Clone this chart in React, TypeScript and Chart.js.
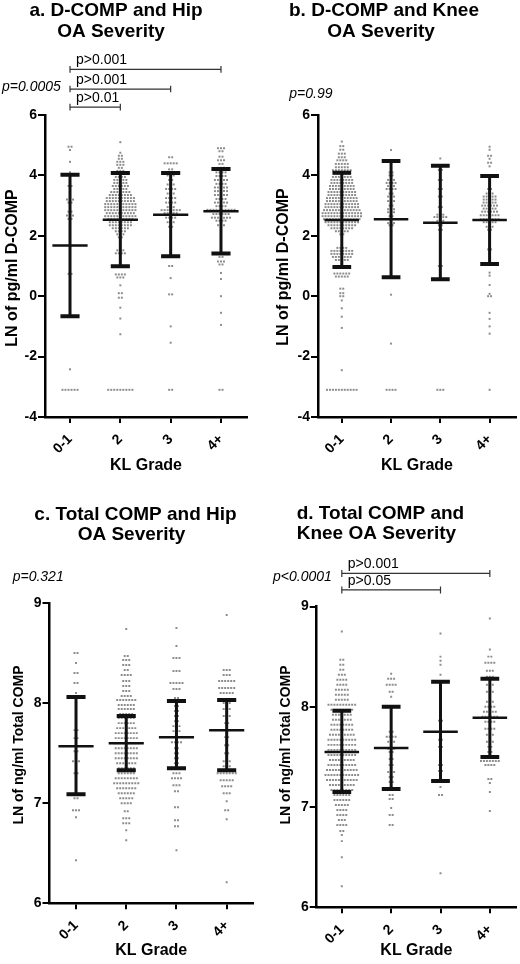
import React, { useEffect, useRef } from "react";
import { Chart, registerables } from "chart.js";

Chart.register(...registerables);

const FONT = '"Liberation Sans", Arial, Helvetica, sans-serif';
const KL_GRADES = ["0-1", "2", "3", "4+"];

type Row = [number, number]; // [value, number of dots at that level]

// ---------- a. D-COMP and Hip OA Severity (LN of pg/ml D-COMP)
const A_ROWS_01: Row[] = [[4.95,2],[4.84,1],[4.45,1],[4.1,1],[3.65,2],[3.2,3],[3.1,2],[2.8,2],[2.67,3],[2.56,2],[1.45,1],[0.74,2],[-2.42,1],[-3.1,6]];
const A_ROWS_2: Row[] = [[5.1,1],[4.75,1],[4.65,2],[4.55,2],[4.45,3],[4.35,3],[4.25,2],[4.15,3],[4.05,4],[3.95,4],[3.85,5],[3.75,5],[3.65,6],[3.55,5],[3.45,7],[3.35,8],[3.25,10],[3.15,10],[3.05,11],[2.95,11],[2.85,11],[2.75,10],[2.65,11],[2.55,9],[2.45,8],[2.35,8],[2.25,6],[2.15,4],[2.05,3],[1.95,2],[1.85,1],[1.52,3],[1.42,4],[0.72,4],[0.62,3],[0.36,1],[0.1,2],[-0.05,2],[-0.38,1],[-0.74,1],[-1.26,1],[-3.1,9]];
const A_ROWS_3: Row[] = [[4.6,2],[4.4,5],[4.2,2],[4.0,3],[3.85,2],[3.7,3],[3.55,4],[3.4,3],[3.25,4],[3.1,4],[2.95,3],[2.85,7],[2.75,5],[2.6,4],[2.45,3],[2.3,2],[2.0,1],[1.65,1],[1.45,1],[1.0,2],[0.6,1],[0.06,2],[-1.0,1],[-1.54,1],[-3.1,2]];
const A_ROWS_4: Row[] = [[4.9,3],[4.8,2],[4.62,2],[4.5,3],[4.38,2],[4.25,3],[4.1,4],[3.98,4],[3.85,5],[3.72,4],[3.6,5],[3.48,5],[3.35,5],[3.22,4],[3.1,5],[2.98,4],[2.86,10],[2.72,6],[2.6,7],[2.5,4],[2.35,3],[2.2,1],[1.3,2],[1.15,3],[1.05,2],[0.77,1],[0.57,1],[0.0,1],[-0.55,1],[-0.95,1],[-3.1,2]];
const A_MEAN = [1.68, 2.53, 2.70, 2.81];
const A_UPPER = [4.02, 4.08, 4.08, 4.21];
const A_LOWER = [-0.66, 0.99, 1.32, 1.41];
const A_BRACKET_FROM = [0, 0, 0];
const A_BRACKET_TO = [3, 2, 1];
const A_BRACKET_Y = [7.51, 6.86, 6.26];
const A_BRACKET_LABELS = ["p>0.001", "p>0.001", "p>0.01"];

// ---------- b. D-COMP and Knee OA Severity
const B_ROWS_01: Row[] = [[5.12,1],[4.97,2],[4.85,2],[4.72,3],[4.6,3],[4.5,4],[4.38,5],[4.27,5],[4.17,7],[4.05,6],[3.95,7],[3.85,8],[3.75,8],[3.65,9],[3.55,9],[3.45,10],[3.35,10],[3.25,11],[3.15,11],[3.05,12],[2.95,12],[2.85,13],[2.75,14],[2.65,14],[2.55,13],[2.45,12],[2.35,10],[2.25,8],[2.15,5],[2.05,2],[1.6,4],[1.5,8],[1.4,8],[1.3,7],[1.2,5],[0.75,6],[0.65,5],[0.25,2],[0.1,2],[0.0,2],[-0.14,1],[-0.4,1],[-0.68,1],[-1.05,1],[-2.45,1],[-3.1,11]];
const B_ROWS_2: Row[] = [[4.84,1],[4.45,1],[4.1,2],[4.0,2],[3.85,3],[3.75,4],[3.65,3],[3.55,4],[3.4,2],[3.3,3],[3.15,3],[3.0,2],[2.88,3],[2.78,3],[2.65,2],[2.55,2],[2.42,3],[2.35,2],[1.42,1],[0.05,1],[-1.57,1],[-3.1,4]];
const B_ROWS_3: Row[] = [[4.56,1],[4.3,1],[4.18,2],[4.05,1],[3.85,2],[3.7,1],[3.55,2],[3.4,1],[3.3,2],[3.1,1],[2.95,2],[2.7,3],[2.62,5],[2.5,3],[2.35,2],[2.2,2],[1.85,1],[1.5,1],[1.0,2],[0.65,1],[-3.1,3]];
const B_ROWS_4: Row[] = [[4.95,1],[4.85,1],[4.65,2],[4.55,1],[4.42,2],[4.3,1],[3.55,2],[3.4,3],[3.3,5],[3.2,5],[3.1,5],[3.0,6],[2.9,5],[2.8,6],[2.68,7],[2.55,7],[2.45,5],[2.3,3],[2.2,2],[2.0,1],[1.55,2],[1.05,1],[0.78,1],[0.68,1],[0.37,1],[0.08,1],[0.0,2],[-0.55,1],[-0.75,1],[-1.0,1],[-1.24,1],[-3.1,1]];
const B_MEAN = [2.52, 2.55, 2.43, 2.52];
const B_UPPER = [4.09, 4.48, 4.32, 3.98];
const B_LOWER = [0.97, 0.63, 0.56, 1.07];

// ---------- c. Total COMP and Hip OA Severity (LN of ng/ml Total COMP)
const C_ROWS_01: Row[] = [[8.5,2],[8.4,1],[8.3,2],[8.2,2],[8.1,1],[8.0,1],[7.82,1],[7.73,2],[7.65,2],[7.52,2],[7.42,3],[7.3,2],[7.2,1],[7.05,2],[6.93,3],[6.86,1],[6.43,1]];
const C_ROWS_2: Row[] = [[8.74,1],[8.47,2],[8.43,3],[8.38,3],[8.33,2],[8.28,4],[8.22,3],[8.17,3],[8.12,3],[8.07,4],[8.03,7],[7.98,6],[7.94,6],[7.89,5],[7.85,6],[7.8,6],[7.75,7],[7.7,8],[7.65,8],[7.6,9],[7.55,8],[7.5,8],[7.45,8],[7.4,7],[7.35,6],[7.3,6],[7.25,8],[7.2,9],[7.15,7],[7.1,6],[7.05,5],[7.0,4],[6.92,2],[6.85,3],[6.8,3],[6.73,1],[6.63,1]];
const C_ROWS_3: Row[] = [[8.75,1],[8.57,1],[8.45,3],[8.32,3],[8.2,5],[8.14,3],[8.05,2],[7.97,2],[7.92,2],[7.87,2],[7.82,2],[7.77,3],[7.72,3],[7.61,4],[7.55,2],[7.5,2],[7.45,2],[7.4,2],[7.3,3],[7.25,4],[7.18,3],[7.12,2],[6.96,2],[6.83,2],[6.77,2],[6.53,1]];
const C_ROWS_4: Row[] = [[8.88,1],[8.33,3],[8.28,3],[8.22,6],[8.15,6],[8.1,5],[8.0,3],[7.94,3],[7.87,3],[7.8,2],[7.73,2],[7.66,2],[7.58,2],[7.5,2],[7.42,3],[7.37,3],[7.3,7],[7.23,5],[7.17,4],[7.1,3],[7.02,1],[6.93,2],[6.84,1],[6.21,1]];
const C_MEAN = [7.57, 7.60, 7.66, 7.73];
const C_UPPER = [8.06, 7.87, 8.02, 8.03];
const C_LOWER = [7.09, 7.33, 7.35, 7.33];

// ---------- d. Total COMP and Knee OA Severity
const D_ROWS_01: Row[] = [[8.75,1],[8.47,2],[8.42,2],[8.37,2],[8.32,3],[8.27,4],[8.22,4],[8.17,5],[8.12,5],[8.07,5],[8.02,10],[7.97,8],[7.92,7],[7.87,7],[7.82,8],[7.77,8],[7.72,9],[7.67,10],[7.62,10],[7.57,10],[7.52,10],[7.47,9],[7.42,10],[7.37,11],[7.32,12],[7.27,11],[7.22,9],[7.17,8],[7.12,6],[7.07,6],[7.02,5],[6.97,4],[6.92,4],[6.87,3],[6.82,4],[6.76,2],[6.72,1],[6.66,1],[6.5,1],[6.21,1]];
const D_ROWS_2: Row[] = [[8.33,1],[8.28,3],[8.22,4],[8.15,2],[8.1,1],[7.75,2],[7.7,4],[7.65,3],[7.58,3],[7.55,2],[7.48,2],[7.42,2],[7.35,3],[7.3,2],[7.25,2],[7.12,2],[7.08,2],[6.99,1],[6.92,2],[6.82,2]];
const D_ROWS_3: Row[] = [[8.73,1],[8.5,1],[8.46,1],[8.42,1],[8.32,1],[8.22,1],[8.14,1],[8.03,1],[7.98,1],[7.9,1],[7.86,2],[7.8,1],[7.72,1],[7.67,2],[7.6,2],[7.5,1],[7.42,2],[7.36,2],[7.28,1],[7.2,1],[7.12,2],[6.34,1]];
const D_ROWS_4: Row[] = [[8.88,1],[8.57,1],[8.5,2],[8.44,4],[8.36,3],[8.3,3],[8.22,3],[8.15,3],[8.05,3],[8.0,4],[7.95,5],[7.9,6],[7.85,4],[7.78,4],[7.72,3],[7.65,3],[7.6,2],[7.55,2],[7.5,3],[7.46,7],[7.42,4],[7.28,2],[7.24,1],[7.15,1],[6.96,1]];
const D_MEAN = [7.55, 7.59, 7.75, 7.89];
const D_UPPER = [7.96, 8.00, 8.25, 8.28];
const D_LOWER = [7.15, 7.18, 7.26, 7.50];
const D_BRACKET_FROM = [0, 0];
const D_BRACKET_TO = [3, 2];
const D_BRACKET_Y = [9.33, 9.165];
const D_BRACKET_LABELS = ["p>0.001", "p>0.05"];

const DCOMP_Y_TICKS = [-4, -2, 0, 2, 4, 6];
const TCOMP_Y_TICKS = [6, 7, 8, 9];

interface TitleLine { text: string; x: number; y: number; align: CanvasTextAlign; }
interface PanelSpec {
  left: number; top: number; width: number; height: number;
  area: { l: number; t: number; r: number; b: number };
  xMin: number; xMax: number;
  yTicks: number[];
  groups: Row[][];
  mean: number[]; upper: number[]; lower: number[];
  bFrom: number[]; bTo: number[]; bY: number[]; bLabels: string[]; bTick: number;
  title: TitleLine[];
  yTitle: string; yTitleSize: number; yTitleX: number; yTitleY: number;
  xTitlePad: number;
  pText: string; pX: number; pY: number;
}

const PANELS: PanelSpec[] = [
  {
    left: 0, top: 0, width: 260, height: 482,
    area: { l: 45, t: 115, r: 247, b: 417 }, xMin: -0.497, xMax: 3.517,
    yTicks: DCOMP_Y_TICKS, groups: [A_ROWS_01, A_ROWS_2, A_ROWS_3, A_ROWS_4],
    mean: A_MEAN, upper: A_UPPER, lower: A_LOWER,
    bFrom: A_BRACKET_FROM, bTo: A_BRACKET_TO, bY: A_BRACKET_Y, bLabels: A_BRACKET_LABELS, bTick: 0.11,
    title: [
      { text: "a. D-COMP and Hip", x: 116, y: 16, align: "center" },
      { text: "OA Severity", x: 111, y: 37, align: "center" },
    ],
    yTitle: "LN of pg/ml D-COMP", yTitleSize: 16, yTitleX: 12.5, yTitleY: 268,
    xTitlePad: 6.4, pText: "p=0.0005", pX: 2, pY: 90.7,
  },
  {
    left: 260, top: 0, width: 260, height: 482,
    area: { l: 58, t: 115, r: 260, b: 417 }, xMin: -0.483, xMax: 3.536,
    yTicks: DCOMP_Y_TICKS, groups: [B_ROWS_01, B_ROWS_2, B_ROWS_3, B_ROWS_4],
    mean: B_MEAN, upper: B_UPPER, lower: B_LOWER,
    bFrom: [], bTo: [], bY: [], bLabels: [], bTick: 0.11,
    title: [
      { text: "b. D-COMP and Knee", x: 124, y: 16, align: "center" },
      { text: "OA Severity", x: 121, y: 37, align: "center" },
    ],
    yTitle: "LN of pg/ml D-COMP", yTitleSize: 16, yTitleX: 24, yTitleY: 267,
    xTitlePad: 6.4, pText: "p=0.99", pX: 29.3, pY: 98,
  },
  {
    left: 0, top: 482, width: 260, height: 482,
    area: { l: 49.5, t: 121, r: 253, b: 421.3 }, xMin: -0.528, xMax: 3.524,
    yTicks: TCOMP_Y_TICKS, groups: [C_ROWS_01, C_ROWS_2, C_ROWS_3, C_ROWS_4],
    mean: C_MEAN, upper: C_UPPER, lower: C_LOWER,
    bFrom: [], bTo: [], bY: [], bLabels: [], bTick: 0.035,
    title: [
      { text: "c. Total COMP and Hip", x: 135.5, y: 38, align: "center" },
      { text: "OA Severity", x: 131.5, y: 57.5, align: "center" },
    ],
    yTitle: "LN of ng/ml Total COMP", yTitleSize: 14, yTitleX: 19, yTitleY: 263,
    xTitlePad: 3.5, pText: "p=0.321", pX: 12.7, pY: 98.7,
  },
  {
    left: 260, top: 482, width: 260, height: 482,
    area: { l: 56.7, t: 124.5, r: 260, b: 425.3 }, xMin: -0.509, xMax: 3.53,
    yTicks: TCOMP_Y_TICKS, groups: [D_ROWS_01, D_ROWS_2, D_ROWS_3, D_ROWS_4],
    mean: D_MEAN, upper: D_UPPER, lower: D_LOWER,
    bFrom: D_BRACKET_FROM, bTo: D_BRACKET_TO, bY: D_BRACKET_Y, bLabels: D_BRACKET_LABELS, bTick: 0.035,
    title: [
      { text: "d. Total COMP and", x: 36.7, y: 37.3, align: "left" },
      { text: "Knee OA Severity", x: 36.7, y: 57.3, align: "left" },
    ],
    yTitle: "LN of ng/ml Total COMP", yTitleSize: 14, yTitleX: 26, yTitleY: 263,
    xTitlePad: 3.5, pText: "p<0.0001", pX: 13, pY: 98.7,
  },
];

// beeswarm-style layout: dots of one level sit side by side around the column
function swarm(rows: Row[], cat: number, dx: number) {
  const pts: { x: number; y: number }[] = [];
  for (const [v, n] of rows) {
    for (let j = 0; j < n; j++) pts.push({ x: cat + (j - (n - 1) / 2) * dx, y: v });
  }
  return pts;
}

function textPlugin(s: PanelSpec) {
  return {
    id: "panelText",
    afterDraw(chart: any) {
      const { ctx, scales } = chart;
      ctx.save();
      ctx.fillStyle = "#000";
      ctx.textBaseline = "alphabetic";
      ctx.font = `bold 19px ${FONT}`;
      for (const t of s.title) {
        ctx.textAlign = t.align;
        ctx.fillText(t.text, t.x, t.y);
      }
      ctx.font = `italic 14px ${FONT}`;
      ctx.textAlign = "left";
      ctx.fillText(s.pText, s.pX, s.pY);
      ctx.font = `14px ${FONT}`;
      s.bLabels.forEach((lab, i) => {
        const x = scales.x.getPixelForValue(s.bFrom[i]) + 6;
        const y = scales.y.getPixelForValue(s.bY[i]) - 5;
        ctx.fillText(lab, x, y);
      });
      ctx.translate(s.yTitleX, s.yTitleY);
      ctx.rotate(-Math.PI / 2);
      ctx.font = `bold ${s.yTitleSize}px ${FONT}`;
      ctx.textAlign = "center";
      ctx.textBaseline = "middle";
      ctx.fillText(s.yTitle, 0, 0);
      ctx.restore();
    },
  };
}

function makeConfig(s: PanelSpec): any {
  const DX = 0.06, CAP = 0.19, MW = 0.35;
  const dots = s.groups.flatMap((rows, i) => swarm(rows, i, DX));
  const vert: any[] = [], caps: any[] = [], means: any[] = [], br: any[] = [];
  s.mean.forEach((m, i) => {
    vert.push({ x: i, y: s.lower[i] }, { x: i, y: s.upper[i] }, { x: i, y: null });
    caps.push(
      { x: i - CAP, y: s.upper[i] }, { x: i + CAP, y: s.upper[i] }, { x: i, y: null },
      { x: i - CAP, y: s.lower[i] }, { x: i + CAP, y: s.lower[i] }, { x: i, y: null }
    );
    means.push({ x: i - MW, y: m }, { x: i + MW, y: m }, { x: i, y: null });
  });
  s.bY.forEach((y, i) => {
    const a = s.bFrom[i], b = s.bTo[i], t = s.bTick;
    br.push(
      { x: a, y: y - t }, { x: a, y: y + t }, { x: a, y: null },
      { x: a, y }, { x: b, y }, { x: b, y: null },
      { x: b, y: y - t }, { x: b, y: y + t }, { x: b, y: null }
    );
  });
  const line = (data: any[], w: number, color: string, order: number) => ({
    type: "line", data, borderColor: color, borderWidth: w, pointRadius: 0,
    spanGaps: false, clip: false, order, borderCapStyle: "butt", tension: 0, fill: false,
  });
  const yt = s.yTicks;
  return {
    type: "scatter",
    data: {
      datasets: [
        line(vert, 3, "#111", 0),
        line(caps, 4, "#111", 0),
        line(means, 2.5, "#111", 0),
        line(br, 1.2, "#333", 0),
        {
          type: "scatter", data: dots, pointStyle: "rect", pointRadius: 1.4,
          backgroundColor: "#8c8c8c", borderWidth: 0, order: 5,
        },
      ],
    },
    options: {
      animation: false,
      responsive: false,
      devicePixelRatio: 1,
      events: [],
      layout: { padding: { left: 0, top: s.area.t, right: s.width - s.area.r, bottom: 0 } },
      plugins: { legend: { display: false }, tooltip: { enabled: false }, title: { display: false } },
      scales: {
        x: {
          type: "linear", min: s.xMin, max: s.xMax,
          afterFit: (sc: any) => { sc.height = s.height - s.area.b; },
          afterBuildTicks: (sc: any) => { sc.ticks = KL_GRADES.map((_, i) => ({ value: i })); },
          ticks: {
            autoSkip: false, minRotation: 45, maxRotation: 45, padding: 8, color: "#000",
            font: { family: FONT, size: 14, weight: "bold" },
            callback: (_v: any, i: number) => KL_GRADES[i],
          },
          grid: { drawOnChartArea: false, drawTicks: true, tickLength: 6, color: "#000", lineWidth: 2 },
          border: { display: true, color: "#000", width: 2.5 },
          title: {
            display: true, text: "KL Grade", color: "#000",
            font: { family: FONT, size: 16, weight: "bold" },
            padding: { top: 0, bottom: s.xTitlePad },
          },
        },
        y: {
          type: "linear", min: yt[0], max: yt[yt.length - 1],
          afterFit: (sc: any) => { sc.width = s.area.l; },
          afterBuildTicks: (sc: any) => { sc.ticks = yt.map((v) => ({ value: v })); },
          ticks: { padding: 1, color: "#000", font: { family: FONT, size: 14, weight: "bold" } },
          grid: { drawOnChartArea: false, drawTicks: true, tickLength: 7, color: "#000", lineWidth: 2 },
          border: { display: true, color: "#000", width: 2.5 },
        },
      },
    },
    plugins: [textPlugin(s)],
  };
}

function Panel({ spec }: { spec: PanelSpec }) {
  const ref = useRef<HTMLCanvasElement>(null);
  useEffect(() => {
    const chart = new Chart(ref.current as HTMLCanvasElement, makeConfig(spec));
    return () => chart.destroy();
  }, [spec]);
  return (
    <canvas
      ref={ref}
      width={spec.width}
      height={spec.height}
      style={{ position: "absolute", left: spec.left, top: spec.top, width: spec.width, height: spec.height }}
    />
  );
}

export default function App() {
  useEffect(() => {
    document.body.style.margin = "0";
  }, []);
  return (
    <div style={{ position: "relative", width: 520, height: 964, background: "#fff", overflow: "hidden" }}>
      {PANELS.map((p, i) => (
        <Panel key={i} spec={p} />
      ))}
    </div>
  );
}
